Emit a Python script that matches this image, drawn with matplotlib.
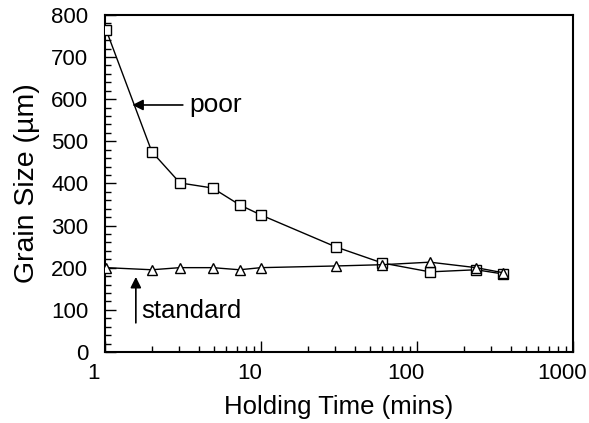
import matplotlib.pyplot as plt
import matplotlib.transforms as mtransforms
from matplotlib.ticker import LogLocator, MultipleLocator, FixedLocator
import numpy as np

plt.rcParams['font.family'] = ['Liberation Sans', 'DejaVu Sans']

# holding time (mins) and grain size (um)
time_poor = [1.02, 2.0, 3.03, 4.9, 7.3, 10.0, 30.3, 60.0, 121, 239, 356]
size_poor = [764, 475, 401, 389, 349, 325, 249, 211, 190, 195, 185]
time_std = [1.02, 2.0, 3.03, 4.9, 7.3, 10.0, 30.3, 60.0, 121, 239, 356]
size_std = [200, 195, 200, 200, 195, 200, 204, 207, 213, 200, 188]

fig = plt.figure(figsize=(5.89, 4.23), dpi=100)
ax = fig.add_axes([0.178, 0.168, 0.795, 0.797])

ax.plot(time_poor, size_poor, color='black', lw=1.0, marker='s', ms=7.5,
        mfc='white', mec='black', mew=1.0, zorder=3)
ax.plot(time_std, size_std, color='black', lw=1.0, marker='^', ms=6.5,
        mfc='white', mec='black', mew=1.0, zorder=4)

ax.set_xscale('log')
ax.set_xlim(1, 1000)
ax.set_ylim(0, 800)
ax.xaxis.set_major_locator(FixedLocator([1, 10, 100, 1000]))
ax.xaxis.set_minor_locator(LogLocator(base=10, subs=np.arange(2, 10)))
ax.set_xticklabels(['1', '10', '100', '1000'])
ax.yaxis.set_major_locator(MultipleLocator(100))
ax.yaxis.set_minor_locator(MultipleLocator(20))

ax.tick_params(which='both', direction='in', top=False, right=False,
               width=1.0, labelsize=16)
ax.tick_params(which='major', length=8)
ax.tick_params(which='minor', length=4)
ax.tick_params(axis='y', pad=12)
ax.tick_params(axis='x', pad=8)
for s in ax.spines.values():
    s.set_linewidth(1.5)

# x tick labels sit a little to the left of their ticks
shift = mtransforms.ScaledTranslation(-11 / 100, 0, fig.dpi_scale_trans)
for lab in ax.get_xticklabels():
    lab.set_transform(lab.get_transform() + shift)

ax.set_xlabel('Holding Time (mins)', fontsize=18.5, labelpad=8)
ax.set_ylabel('Grain Size (µm)', fontsize=20.5, labelpad=8)

ax.annotate('', xy=(1.5, 586), xytext=(3.16, 586),
            arrowprops=dict(arrowstyle='-|>', color='black', lw=1.2,
                            mutation_scale=16, shrinkA=0, shrinkB=0))
ax.text(3.5, 586, 'poor', fontsize=19, va='center', ha='left')
ax.annotate('', xy=(1.58, 178), xytext=(1.58, 69),
            arrowprops=dict(arrowstyle='-|>', color='black', lw=1.2,
                            mutation_scale=16, shrinkA=0, shrinkB=0))
ax.text(1.7, 97, 'standard', fontsize=18.5, va='center', ha='left')

fig.savefig('out.png', dpi=100)
